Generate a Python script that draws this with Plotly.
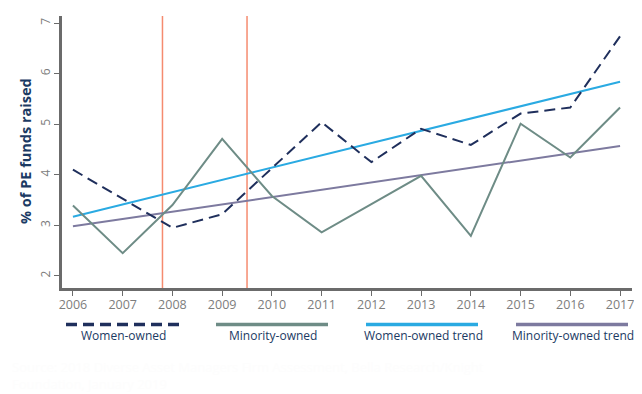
import plotly.graph_objects as go

years = [2006, 2007, 2008, 2009, 2010, 2011, 2012, 2013, 2014, 2015, 2016, 2017]
women_owned = [4.10, 3.52, 2.95, 3.22, 4.12, 5.04, 4.25, 4.91, 4.59, 5.21, 5.33, 6.74]
minority_owned = [3.39, 2.45, 3.40, 4.71, 3.58, 2.86, 3.42, 3.98, 2.79, 5.01, 4.34, 5.33]
trend_years = [2006, 2017]
women_trend = [3.17, 5.84]
minority_trend = [2.98, 4.57]
event_years = [2007.8, 2009.5]
y_ticks = [2, 3, 4, 5, 6, 7]

legend_labels = ["Women-owned", "Minority-owned", "Women-owned trend", "Minority-owned trend"]

C_WOMEN = "#1f2f5c"
C_MIN = "#6e8c86"
C_WTREND = "#2aaae2"
C_MTREND = "#7d7a9f"
C_EVENT = "#f58b6f"
C_TEXT = "#1b3a63"

fig = go.Figure()
fig.add_trace(go.Scatter(x=trend_years, y=minority_trend, mode="lines",
                         line=dict(color=C_MTREND, width=2), name=legend_labels[3]))
fig.add_trace(go.Scatter(x=trend_years, y=women_trend, mode="lines",
                         line=dict(color=C_WTREND, width=2), name=legend_labels[2]))
fig.add_trace(go.Scatter(x=years, y=minority_owned, mode="lines",
                         line=dict(color=C_MIN, width=2), name=legend_labels[1]))
fig.add_trace(go.Scatter(x=years, y=women_owned, mode="lines",
                         line=dict(color=C_WOMEN, width=2, dash="11px,6px"), name=legend_labels[0]))

for ev in event_years:
    fig.add_shape(type="line", xref="x", yref="paper", x0=ev, x1=ev, y0=0, y1=1,
                  line=dict(color=C_EVENT, width=1.5), layer="below")

# target plot-area edges in screen pixels; page body adds an 8px offset
OFF = 8
W, H = 642 - OFF, 394 - OFF
L, R, T, B = 62, 632, 16, 288
def px_x(p):
    return (p - L) / (R - L)
def px_y(p):
    return (B - p) / (B - T)

legend_items = [
    (legend_labels[0], C_WOMEN, "11px,6px", 66, 179),
    (legend_labels[1], C_MIN, "solid", 216, 328),
    (legend_labels[2], C_WTREND, "solid", 366, 478),
    (legend_labels[3], C_MTREND, "solid", 516, 628),
]
for label, col, dash, x0, x1 in legend_items:
    fig.add_shape(type="line", xref="paper", yref="paper",
                  x0=px_x(x0), x1=px_x(x1), y0=px_y(324.5), y1=px_y(324.5),
                  line=dict(color=col, width=3.5, dash=dash))
    fig.add_annotation(xref="paper", yref="paper", x=px_x((x0 + x1) / 2 + 1), y=px_y(335.5),
                       text=label, showarrow=False, xanchor="center", yanchor="middle",
                       font=dict(family="Open Sans", size=12, color=C_TEXT))

fig.add_annotation(xref="paper", yref="paper", x=px_x(25), y=px_y(151),
                   text="<b>% of PE funds raised</b>", textangle=-90, showarrow=False,
                   xanchor="center", yanchor="middle",
                   font=dict(family="Open Sans", size=14.5, color=C_TEXT))

fig.add_annotation(xref="paper", yref="paper", x=px_x(10), y=px_y(356),
                   text="Source: 2018 Diverse Asset Managers Firm Assessment, Bella Research/Knight<br>Foundation, January 2019",
                   showarrow=False, xanchor="left", yanchor="top", align="left",
                   font=dict(family="Open Sans", size=13, color="#fdfdfd"))

fig.update_xaxes(range=[2005.78, 2017.24], tickmode="array", tickvals=years,
                 ticktext=[str(y) for y in years], showgrid=False, zeroline=False,
                 showline=True, linecolor="#6b6b6b", linewidth=3,
                 ticks="outside", ticklen=5, tickwidth=1.2, tickcolor="#6b6b6b",
                 ticklabelstandoff=-2,
                 tickfont=dict(family="Open Sans", size=12.5, color="#7d7d7d"))
fig.update_yaxes(range=[1.76, 7.14], tickmode="array", tickvals=y_ticks,
                 showgrid=False, zeroline=False,
                 showline=True, linecolor="#6b6b6b", linewidth=3,
                 ticks="outside", ticklen=5, tickwidth=1.2, tickcolor="#6b6b6b",
                 tickangle=-90, ticklabelstandoff=-1,
                 tickfont=dict(family="Open Sans", size=12, color="#7d7d7d"))

fig.update_layout(width=W, height=H, showlegend=False,
                  margin=dict(l=L - OFF, r=W - (R - OFF), t=T - OFF, b=H - (B - OFF),
                              autoexpand=False),
                  plot_bgcolor="white", paper_bgcolor="white")

fig.write_html("out.html")
